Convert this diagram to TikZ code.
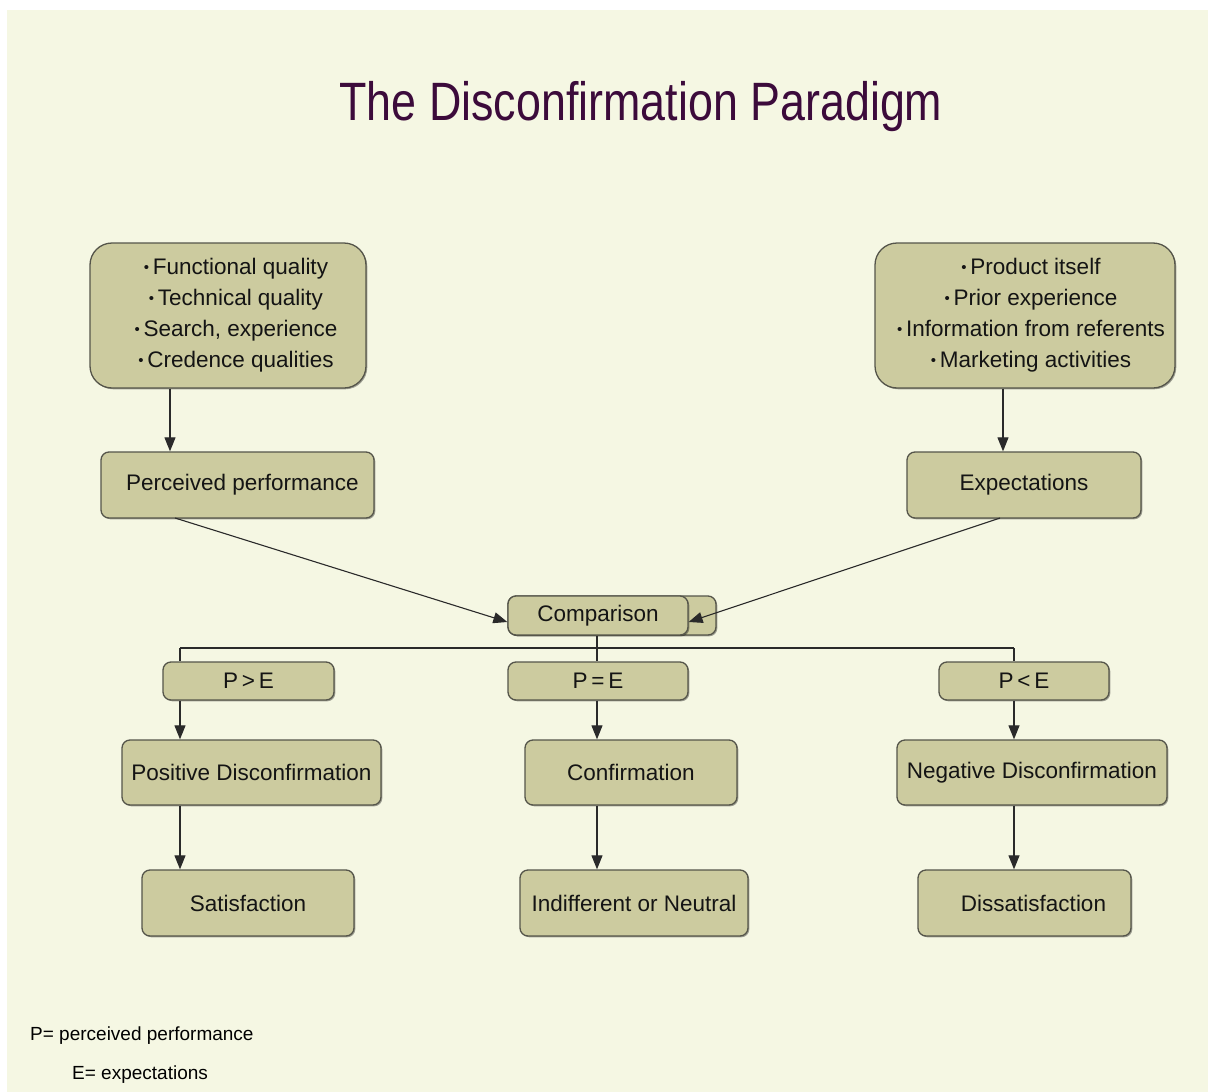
\documentclass[tikz,border=0pt]{standalone}
\usepackage{fontspec}
\setmainfont{Liberation Sans}
\usetikzlibrary{arrows.meta,shadows,calc}
\definecolor{bgc}{HTML}{F5F7E3}
\definecolor{boxc}{HTML}{CCCB9F}
\definecolor{edgec}{HTML}{55554A}
\definecolor{titlec}{HTML}{3C0B3B}
\definecolor{linec}{HTML}{2A2A2A}
\newcommand{\bul}{\raisebox{2pt}{\fontsize{15}{15}\selectfont •}\,}
\tikzset{
 box/.style={draw=edgec, line width=1.3pt, fill=boxc, rounded corners=8pt, inner sep=0pt,
   font=\fontsize{22.5}{31}\selectfont, text=black!92,
   drop shadow={shadow xshift=1.3pt, shadow yshift=-1.3pt, opacity=0.35, fill=black}},
 bigbox/.style={box, rounded corners=22pt, align=center},
 conn/.style={draw=linec, line width=1.1pt},
 arr/.style={conn, -{Triangle[length=14pt,width=11pt]}},
}
\begin{document}
\begin{tikzpicture}[x=1pt,y=-1pt]
\useasboundingbox (0,0) rectangle (1208,1092);
\fill[white] (0,0) rectangle (1208,1092);
\fill[bgc] (7,10) rectangle (1208,1092);

% title
\node[anchor=base, text=titlec, font=\fontsize{54}{60}\selectfont, inner sep=0pt] (title) at (641,120)
  {\scalebox{0.83}[1]{The Disconfirmation Paradigm}};

% top boxes
\node[bigbox, minimum width=276pt, minimum height=145pt] (tl) at (228,315.5)
  {\hspace*{16pt}\bul Functional quality\\ \hspace*{16pt}\bul Technical quality\\ \hspace*{16pt}\bul Search, experience\\ \hspace*{16pt}\bul Credence qualities};
\node[bigbox, minimum width=300pt, minimum height=145pt] (tr) at (1025,315.5)
  {\hspace*{12pt}\bul Product itself\\ \hspace*{12pt}\bul Prior experience\\ \hspace*{12pt}\bul Information from referents\\ \hspace*{12pt}\bul Marketing activities};

\node[box, minimum width=273pt, minimum height=66pt] (pp) at (237.5,485) {\hspace*{10pt}Perceived performance};
\node[box, minimum width=234pt, minimum height=66pt] (ex) at (1024,485) {Expectations};

% comparison
\node[box, minimum width=208pt, minimum height=39pt] (compb) at (612,615.5) {};
\node[box, minimum width=180pt, minimum height=39pt] (comp) at (598,615.5) {Comparison};

% condition boxes
\node[box, minimum width=171pt, minimum height=38pt] (pgt) at (248.5,681) {P\,>\,E};
\node[box, minimum width=180pt, minimum height=38pt] (peq) at (598,681) {P\,=\,E};
\node[box, minimum width=170pt, minimum height=38pt] (plt) at (1024,681) {P\,<\,E};

\node[box, minimum width=259pt, minimum height=65pt] (pos) at (251.5,772.5) {Positive Disconfirmation};
\node[box, minimum width=212pt, minimum height=65pt] (conf) at (631,772.5) {Confirmation};
\node[box, minimum width=270pt, minimum height=65pt] (neg) at (1032,772.5) {Negative Disconfirmation};

\node[box, minimum width=212pt, minimum height=66pt] (sat) at (248,903) {Satisfaction};
\node[box, minimum width=228pt, minimum height=66pt] (ind) at (634,903) {Indifferent or Neutral};
\node[box, minimum width=213pt, minimum height=66pt] (dis) at (1024.5,903) {\hspace*{18pt}Dissatisfaction};

% legend
\node[anchor=base west, inner sep=0pt, font=\fontsize{19}{22}\selectfont] (lp) at (30,1040) {P= perceived performance};
\node[anchor=base west, inner sep=0pt, font=\fontsize{19}{22}\selectfont] (le) at (72,1079) {E= expectations};

% connector x positions
\coordinate (xa) at (170,0);
\coordinate (xb) at (1003,0);
\coordinate (xl) at (180,0);
\coordinate (xm) at (597,0);
\coordinate (xr) at (1014,0);
\coordinate (ppout) at (175,518);
\coordinate (exout) at (1000,518);
\coordinate (bus) at (0,648);

\draw[arr] (tl.south -| xa) -- (pp.north -| xa);
\draw[arr] (tr.south -| xb) -- (ex.north -| xb);
\draw[arr] (ppout) -- ($(comp.west)+(0,6.5)$);
\draw[arr] (exout) -- ($(comp.east)+(0,6.5)$);

\draw[conn] (comp.south -| xm) -- (bus -| xm);
\draw[conn] (bus -| xl) -- (bus -| xr);
\draw[conn] (bus -| xl) -- (pgt.north -| xl);
\draw[conn] (bus -| xm) -- (peq.north -| xm);
\draw[conn] (bus -| xr) -- (plt.north -| xr);

\draw[arr] (pgt.south -| xl) -- (pos.north -| xl);
\draw[arr] (pos.south -| xl) -- (sat.north -| xl);
\draw[arr] (peq.south -| xm) -- (conf.north -| xm);
\draw[arr] (conf.south -| xm) -- (ind.north -| xm);
\draw[arr] (plt.south -| xr) -- (neg.north -| xr);
\draw[arr] (neg.south -| xr) -- (dis.north -| xr);
\end{tikzpicture}
\end{document}
